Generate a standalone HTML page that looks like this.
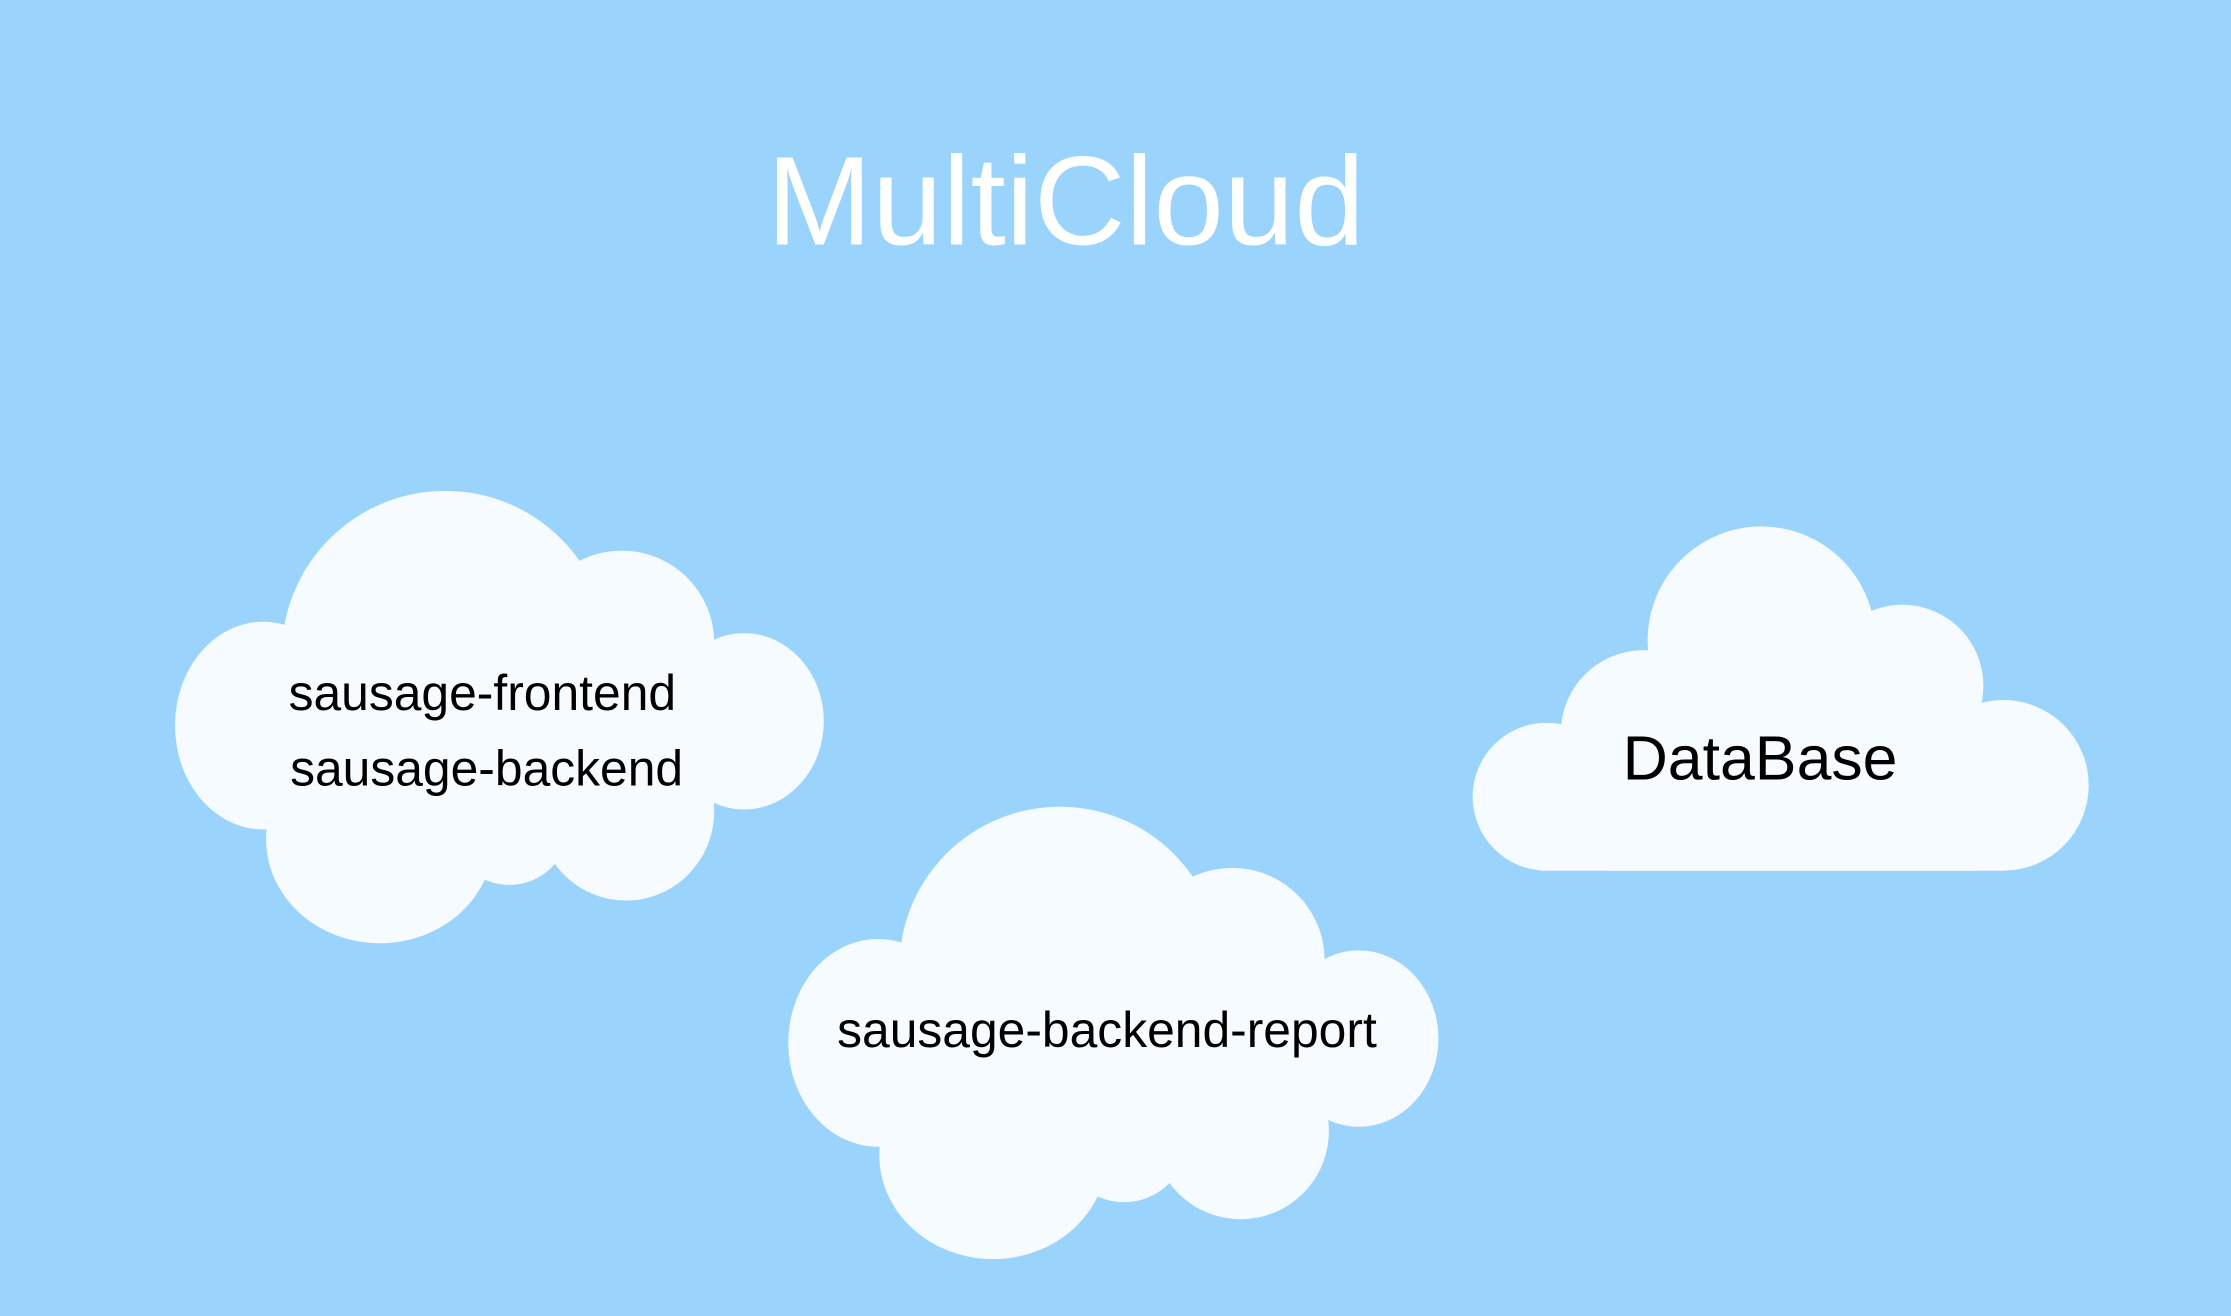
<!DOCTYPE html>
<html><head><meta charset="utf-8"><style>
html,body{margin:0;padding:0;background:#9AD3FC;}
svg{display:block}
</style></head><body>
<svg width="2231" height="1316" viewBox="0 0 1568 925" preserveAspectRatio="none" xmlns="http://www.w3.org/2000/svg">
<rect width="1568" height="925" fill="#9AD3FC"/>
<text x="749" y="172" text-anchor="middle" font-family="Liberation Sans, sans-serif" font-size="89" fill="#ffffff">MultiCloud</text>
<g fill="#F5FBFE">
  <!-- cloud 1 -->
  <circle cx="313" cy="460" r="115"/>
  <ellipse cx="185" cy="510" rx="62" ry="73"/>
  <ellipse cx="523" cy="507" rx="56" ry="62"/>
  <circle cx="437" cy="452" r="65"/>
  <ellipse cx="267" cy="590" rx="80" ry="73"/>
  <ellipse cx="440" cy="570" rx="62" ry="63"/>
  <circle cx="358" cy="580" r="42"/>
  <rect x="200" y="450" width="300" height="130"/>
  <!-- cloud 2 -->
  <circle cx="745" cy="680" r="113"/>
  <ellipse cx="617" cy="733" rx="63" ry="73"/>
  <ellipse cx="955" cy="730" rx="56" ry="62"/>
  <circle cx="866" cy="675" r="65"/>
  <ellipse cx="698" cy="812" rx="80" ry="73"/>
  <ellipse cx="872" cy="795" rx="62" ry="62"/>
  <circle cx="790" cy="800" r="45"/>
  <rect x="630" y="670" width="300" height="120"/>
  <!-- cloud 3 -->
  <circle cx="1238" cy="450" r="80"/>
  <circle cx="1155" cy="515" r="58"/>
  <circle cx="1337" cy="482" r="57"/>
  <circle cx="1087" cy="560" r="52"/>
  <circle cx="1408" cy="552" r="60"/>
  <rect x="1130" y="470" width="260" height="142"/>
  <rect x="1087" y="530" width="321" height="82"/>
</g>
<g font-family="Liberation Sans, sans-serif" fill="#000" text-anchor="middle">
  <text x="339" y="499" font-size="35">sausage-frontend</text>
  <text x="342" y="552" font-size="35">sausage-backend</text>
  <text x="778" y="736" font-size="35">sausage-backend-report</text>
  <text x="1237" y="548" font-size="44">DataBase</text>
</g>
</svg>
</body></html>
